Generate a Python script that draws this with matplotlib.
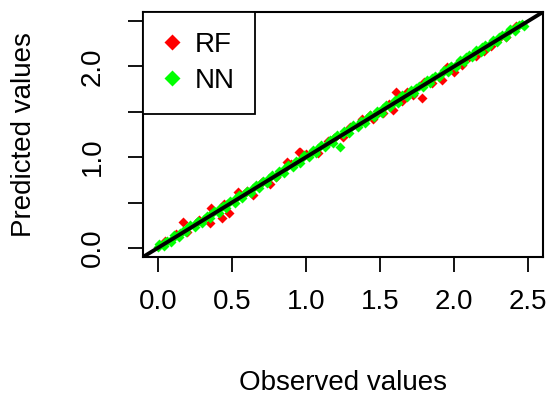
import matplotlib
matplotlib.use("Agg")
import matplotlib.pyplot as plt
from matplotlib.lines import Line2D

plt.rcParams['font.family'] = ['Liberation Sans', 'DejaVu Sans']

# ---- data ----
nn_obs = [0.01, 0.04, 0.06, 0.09, 0.11, 0.14, 0.17, 0.19, 0.22, 0.25,
          0.27, 0.30, 0.33, 0.35, 0.38, 0.41, 0.44, 0.46, 0.49, 0.52,
          0.55, 0.57, 0.60, 0.63, 0.66, 0.68, 0.71, 0.74, 0.77, 0.80,
          0.82, 0.85, 0.88, 0.91, 0.93, 0.96, 0.99, 1.02, 1.05, 1.07,
          1.10, 1.13, 1.16, 1.18, 1.21, 1.23, 1.26, 1.29, 1.32, 1.35,
          1.37, 1.40, 1.43, 1.46, 1.48, 1.51, 1.54, 1.57, 1.60, 1.62,
          1.65, 1.68, 1.71, 1.73, 1.76, 1.79, 1.82, 1.84, 1.87, 1.90,
          1.93, 1.96, 1.98, 2.01, 2.04, 2.07, 2.10, 2.12, 2.15, 2.18,
          2.21, 2.23, 2.26, 2.29, 2.32, 2.35, 2.38, 2.41, 2.44, 2.47,
          0.00, 0.05, 0.10, 0.15, 0.20, 0.26, 0.31, 0.36, 0.42, 0.47,
          0.53, 0.58, 0.64, 0.69, 0.75, 0.81, 0.86, 0.92, 0.97, 1.03,
          1.08, 1.14, 1.19, 1.25, 1.30, 1.36, 1.41, 1.47, 1.52, 1.58,
          1.63, 1.69, 1.74, 1.80, 1.85, 1.91, 1.97, 2.02, 2.08, 2.13,
          2.19, 2.24, 2.30, 2.36, 2.42, 2.46]
nn_pred = [0.04, 0.02, 0.08, 0.06, 0.14, 0.12, 0.19, 0.17, 0.25, 0.23,
           0.30, 0.28, 0.35, 0.33, 0.41, 0.39, 0.46, 0.44, 0.52, 0.50,
           0.58, 0.55, 0.63, 0.61, 0.69, 0.66, 0.74, 0.72, 0.80, 0.78,
           0.85, 0.83, 0.91, 0.89, 0.96, 0.94, 1.02, 1.00, 1.08, 1.05,
           1.13, 1.11, 1.19, 1.16, 1.24, 1.11, 1.29, 1.27, 1.35, 1.33,
           1.40, 1.38, 1.46, 1.44, 1.51, 1.49, 1.57, 1.55, 1.63, 1.60,
           1.68, 1.66, 1.74, 1.71, 1.79, 1.77, 1.85, 1.82, 1.90, 1.88,
           1.96, 1.94, 2.01, 1.99, 2.07, 2.05, 2.13, 2.10, 2.18, 2.16,
           2.24, 2.21, 2.29, 2.27, 2.35, 2.33, 2.41, 2.39, 2.46, 2.45,
           0.01, 0.07, 0.11, 0.16, 0.22, 0.28, 0.32, 0.37, 0.44, 0.48,
           0.55, 0.59, 0.66, 0.70, 0.77, 0.82, 0.88, 0.93, 0.99, 1.04,
           1.10, 1.15, 1.21, 1.26, 1.32, 1.37, 1.43, 1.48, 1.54, 1.59,
           1.65, 1.70, 1.76, 1.81, 1.87, 1.92, 1.99, 2.03, 2.10, 2.14,
           2.21, 2.25, 2.32, 2.37, 2.44, 2.47]

rf_obs = [0.05, 0.12, 0.17, 0.20, 0.28, 0.35, 0.36, 0.43, 0.45, 0.48,
          0.54, 0.60, 0.64, 0.70, 0.76, 0.80, 0.87, 0.90, 0.95, 0.96,
          1.00, 1.08, 1.15, 1.19, 1.25, 1.30, 1.38, 1.43, 1.45, 1.49,
          1.52, 1.56, 1.59, 1.61, 1.65, 1.68, 1.72, 1.78, 1.80, 1.85,
          1.92, 1.95, 2.00, 2.05, 2.10, 2.15, 2.20, 2.25, 2.31, 2.35,
          2.42]
rf_pred = [0.08, 0.15, 0.29, 0.17, 0.31, 0.27, 0.44, 0.33, 0.48, 0.39,
           0.62, 0.63, 0.58, 0.73, 0.71, 0.78, 0.95, 0.93, 1.06, 1.06,
           1.04, 1.05, 1.18, 1.21, 1.22, 1.33, 1.42, 1.46, 1.42, 1.50,
           1.49, 1.59, 1.52, 1.72, 1.62, 1.72, 1.69, 1.65, 1.83, 1.82,
           1.85, 1.99, 1.94, 2.02, 2.10, 2.12, 2.17, 2.22, 2.32, 2.33,
           2.45]

xticks = [0.0, 0.5, 1.0, 1.5, 2.0, 2.5]
xticklabels = ["0.0", "0.5", "1.0", "1.5", "2.0", "2.5"]
yticks = [0.0, 0.5, 1.0, 1.5, 2.0, 2.5]
yticklabels = ["0.0", "", "1.0", "", "2.0", ""]
labels = ["RF", "NN"]
colors = ["#FF0000", "#00FF00"]

# ---- figure ----
fig = plt.figure(figsize=(5.5, 3.97), dpi=100)
ax = fig.add_axes([143/550, 1-257/397, 400/550, 245/397])

ms = 5.6
ax.plot(rf_obs, rf_pred, 'D', color=colors[0], ms=ms, mec='none', zorder=2)
ax.plot(nn_obs, nn_pred, 'D', color=colors[1], ms=ms, mec='none', zorder=3)
ax.plot([-0.2, 2.8], [-0.2, 2.8], color='black', lw=2.8, zorder=4,
        solid_capstyle='butt')

ax.set_xlim(-0.1, 2.6)
ax.set_ylim(-0.1, 2.6)
ax.set_xticks(xticks)
ax.set_xticklabels(xticklabels)
ax.set_yticks(yticks)
ax.set_yticklabels(yticklabels, rotation=90, va='center')
ax.tick_params(axis='both', labelsize=20, length=11, width=1.3, color='black')
ax.tick_params(axis='x', pad=12)
ax.tick_params(axis='y', pad=16)
for sp in ax.spines.values():
    sp.set_linewidth(1.5)
    sp.set_color('black')

ax.set_xlabel("Observed values", fontsize=20, va='center')
ax.xaxis.set_label_coords(0.5, (257-383)/245)
ax.set_ylabel("Predicted values", fontsize=20, va='center')
ax.yaxis.set_label_coords((24-143)/400, 0.5)

handles = [Line2D([], [], marker='D', ls='none', color=c, mec='none', ms=8)
           for c in colors]
leg = ax.legend(handles, labels, loc='upper left', bbox_to_anchor=(0, 1),
                borderaxespad=0, fontsize=20, fancybox=False, framealpha=1,
                edgecolor='black', handlelength=0.65, handletextpad=0.5,
                borderpad=0.72, labelspacing=0.35)
leg.get_frame().set_linewidth(1.3)
leg.set_zorder(5)

fig.savefig("out.png", dpi=100)
